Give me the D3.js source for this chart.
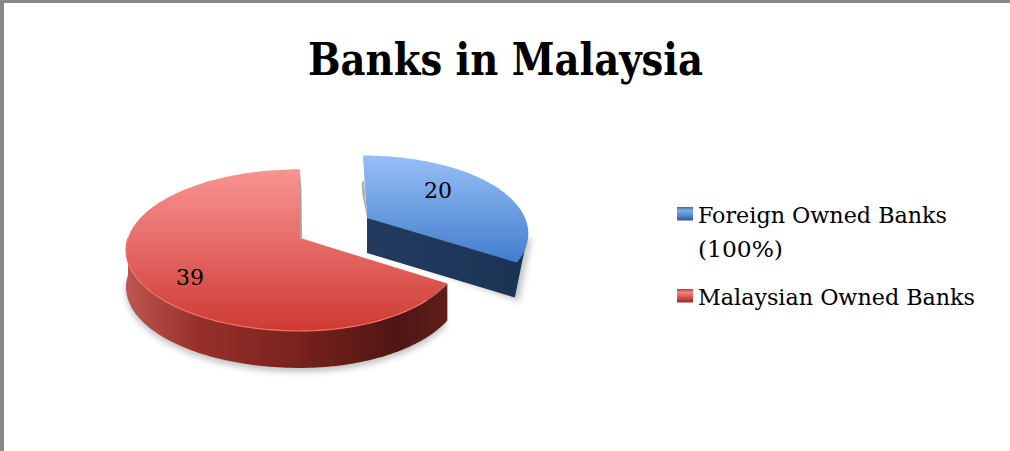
<!DOCTYPE html>
<html><head><meta charset="utf-8">
<script src="https://cdn.jsdelivr.net/npm/d3@7"></script>
<style>html,body{margin:0;padding:0;background:#fff}svg{display:block}</style></head>
<body><svg id="c" width="1010" height="451"></svg>
<script>
const title = "Banks in Malaysia";
const categories = ["Foreign Owned Banks (100%)", "Malaysian Owned Banks"];
const legendLines = [["Foreign Owned Banks", "(100%)"], ["Malaysian Owned Banks"]];
const legendWidths = [[249, 85], [277]];
const values = [20, 39];

const svg = d3.select("#c");
const defs = svg.append("defs");
const serif = "'DejaVu Serif Condensed', 'DejaVu Serif', serif";
function grad(id, x1, y1, x2, y2, stops, user) {
  const g = defs.append("linearGradient").attr("id", id)
    .attr("x1", x1).attr("y1", y1).attr("x2", x2).attr("y2", y2);
  if (user) g.attr("gradientUnits", "userSpaceOnUse");
  stops.forEach(s => g.append("stop").attr("offset", s[0]).attr("stop-color", s[1]));
}
grad("topR", 0, 170, 0, 331, [[0, "#f89492"], [0.5, "#e36763"], [1, "#cf3a33"]], true);
grad("topB", 0, 155, 0, 262, [[0, "#97bff7"], [1, "#437ecd"]], true);
grad("wallR", 128, 0, 447, 0, [[0, "#bd544e"], [0.22, "#97302b"], [0.55, "#77211d"], [0.85, "#4e1613"], [1, "#5f1f1b"]], true);
grad("wallB", 367, 0, 530, 0, [[0, "#243b60"], [1, "#1a3354"]], true);
grad("swB", 0, 0, 0, 1, [[0, "#3d6ca8"], [0.25, "#7fabe6"], [0.7, "#4f83c8"], [1, "#2f5688"]]);
grad("swR", 0, 0, 0, 1, [[0, "#a84440"], [0.25, "#ec8581"], [0.7, "#cc4a45"], [1, "#8d2d2a"]]);
const blur = defs.append("filter").attr("id", "soft").attr("x", "-10%").attr("y", "-10%").attr("width", "120%").attr("height", "130%");
blur.append("feGaussianBlur").attr("stdDeviation", 3);

// Page frame
const frameColor = "#888888";
svg.append("rect").attr("x", 0).attr("y", 0).attr("width", 1010).attr("height", 3).attr("fill", frameColor);
svg.append("rect").attr("x", 0).attr("y", 0).attr("width", 4).attr("height", 451).attr("fill", frameColor);

// Title
svg.append("text").text(title).attr("x", 308).attr("y", 75)
  .attr("font-family", serif).attr("font-weight", "bold").attr("font-size", 44).attr("fill", "#000")
  .attr("textLength", 395).attr("lengthAdjust", "spacingAndGlyphs");

// Pie geometry: angles come from d3.pie, then a perspective projection
const angles = d3.pie().sort(null).value(d => d)(values);
const geo = [
  { ax: 367, ay: 218, rl: 158, rr: 158, k: 0.20, a: 75, depth: 35, topFill: "url(#topB)", wallFill: "url(#wallB)", lx: 438, ly: 198, skew: -4 },
  { ax: 300, ay: 238, rl: 172, rr: 160, k: 0.15, a: 79, depth: 37, topFill: "url(#topR)", wallFill: "url(#wallR)", lx: 190, ly: 285, skew: 0 }
];
function proj(g, t, off) {
  const s = Math.sin(t), p = -Math.cos(t), d = 1 - g.k * p;
  const r = s > 0 ? g.rr : g.rl;
  return [g.ax + r * s / d + g.skew * Math.max(0, -p) * (1 - Math.abs(s)), g.ay + g.a * p / d + (off || 0)];
}
function arcPts(g, t0, t1, off) {
  return d3.range(0, 121).map(i => proj(g, t0 + (t1 - t0) * i / 120, off));
}
const line = d3.line();
const closed = pts => line(pts) + "Z";

// Soft drop shadows under the walls
const redG = geo[1], blueG = geo[0];
const rA = angles[1], bA = angles[0];
const shadow = svg.append("g").attr("filter", "url(#soft)").attr("opacity", 0.45);
shadow.append("path").attr("fill", "#777").attr("d",
  closed(arcPts(redG, rA.startAngle, 3 * Math.PI / 2, redG.depth + 4).concat([[redG.ax, redG.ay]])));
const bCorner = proj(blueG, bA.endAngle);
const bLow = [bCorner[0] - 2, bCorner[1] + blueG.depth];
const bApexLow = [blueG.ax, blueG.ay + blueG.depth];
const bEdge = proj(blueG, 1.75);
shadow.append("path").attr("fill", "#777").attr("d",
  closed([[bEdge[0] + 3, bEdge[1] + 6], [bLow[0] + 4, bLow[1] + 4], [bApexLow[0] + 40, bApexLow[1] + 8]]));

// Red slice
const redFront = arcPts(redG, rA.startAngle, 3 * Math.PI / 2);
const redFrontLow = arcPts(redG, rA.startAngle, 3 * Math.PI / 2, redG.depth).reverse();
svg.append("path").attr("fill", redG.wallFill).attr("d", closed(redFront.concat(redFrontLow)));
svg.append("path").attr("fill", "#a5a5a5").attr("d", closed([
  [redG.ax - 1, redG.ay], proj(redG, 2 * Math.PI - 0.001), [proj(redG, 2 * Math.PI)[0] + 1.5, redG.ay - 48], [redG.ax + 2, redG.ay]]));
svg.append("path").attr("fill", redG.topFill).attr("d",
  closed(arcPts(redG, rA.startAngle, rA.endAngle).concat([[redG.ax, redG.ay]])));
svg.append("path").attr("fill", "none").attr("stroke", "#f4736a").attr("stroke-width", 1.2).attr("d",
  line(arcPts(redG, 3 * Math.PI / 4, 3 * Math.PI / 2)));

// Blue slice: a faint sliver of left wall, then cut wall plus the short outer wall as one shape
const bTop = proj(blueG, 0);
svg.append("path").attr("fill", "#b0b0b0").attr("d", closed([
  [blueG.ax, blueG.ay], [bTop[0] + 1, bTop[1] + 24], [bTop[0] - 1.5, bTop[1] + 28], [bTop[0] - 0.5, bTop[1] + 40]]));
svg.append("path").attr("fill", blueG.wallFill).attr("d", closed(
  [[blueG.ax, blueG.ay], bEdge, bLow, bApexLow]));
svg.append("path").attr("fill", blueG.topFill).attr("d",
  closed(arcPts(blueG, bA.startAngle, bA.endAngle).concat([[blueG.ax, blueG.ay]])));

// Data labels
values.forEach((v, i) => {
  svg.append("text").text(v).attr("x", geo[i].lx - 14).attr("y", geo[i].ly)
    .attr("font-family", serif).attr("font-size", 23).attr("fill", "#000")
    .attr("textLength", 28).attr("lengthAdjust", "spacingAndGlyphs");
});

// Legend
const legendTop = [207, 289];
const legendBase = [[223, 257], [305]];
categories.forEach((c, i) => {
  svg.append("rect").attr("x", 677).attr("y", legendTop[i]).attr("width", 16).attr("height", 13.5)
    .attr("fill", i === 0 ? "url(#swB)" : "url(#swR)");
  legendLines[i].forEach((t, j) => {
    svg.append("text").text(t).attr("x", 698).attr("y", legendBase[i][j])
      .attr("font-family", serif).attr("font-size", 23).attr("fill", "#000")
      .attr("textLength", legendWidths[i][j]).attr("lengthAdjust", "spacingAndGlyphs");
  });
});
</script></body></html>
